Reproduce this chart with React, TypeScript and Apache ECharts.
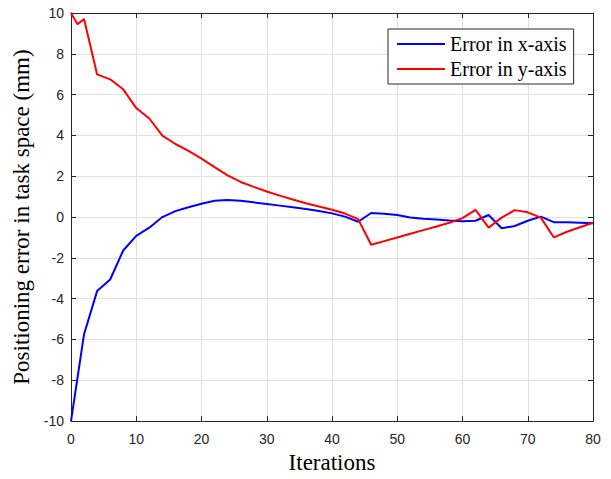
import React, { useEffect, useRef } from "react";
import * as echarts from "echarts";

const xTicks = { min: 0, max: 80, interval: 10 };
const yTicks = { min: -10, max: 10, interval: 2 };

const errX: [number, number][] = [
  [0, -10], [2, -5.74], [4, -3.63], [6, -3.06], [8, -1.64], [10, -0.92], [12, -0.52],
  [14, 0.0], [16, 0.29], [18, 0.48], [20, 0.65], [22, 0.8], [24, 0.83], [26, 0.8],
  [28, 0.72], [30, 0.64], [32, 0.56], [34, 0.48], [36, 0.4], [38, 0.3], [40, 0.18],
  [42, 0.02], [44, -0.23], [46, 0.2], [48, 0.16], [50, 0.1], [52, -0.02], [54, -0.08],
  [56, -0.12], [58, -0.17], [60, -0.2], [62, -0.18], [64, 0.1], [66, -0.55], [68, -0.44],
  [70, -0.18], [72, 0.02], [74, -0.25], [76, -0.26], [78, -0.28], [80, -0.3],
];

const errY: [number, number][] = [
  [0, 10], [1, 9.45], [2, 9.71], [4, 6.99], [6, 6.75], [8, 6.26], [10, 5.34], [12, 4.83],
  [14, 3.99], [16, 3.58], [18, 3.24], [20, 2.86], [22, 2.45], [24, 2.04], [26, 1.72],
  [28, 1.48], [30, 1.25], [32, 1.05], [34, 0.86], [36, 0.68], [38, 0.52], [40, 0.36],
  [42, 0.17], [44, -0.1], [46, -1.36], [48, -1.18], [50, -1.0], [52, -0.82], [54, -0.64],
  [56, -0.46], [58, -0.28], [60, -0.05], [62, 0.35], [64, -0.52], [66, -0.03], [68, 0.34],
  [70, 0.23], [72, -0.03], [74, -1.0], [76, -0.72], [78, -0.5], [80, -0.28],
];

const seriesNames = ["Error in x-axis", "Error in y-axis"];
const xTitle = "Iterations";
const yTitle = "Positioning error in task space (mm)";

export default function App() {
  const ref = useRef<HTMLDivElement>(null);
  useEffect(() => {
    if (!ref.current) return;
    const chart = echarts.init(ref.current, null, { renderer: "svg" });
    const axisColor = "#262626";
    const tickFont = { fontFamily: "Liberation Sans", fontSize: 14, color: axisColor };
    const hiddenAxisCommon = {
      axisLine: { show: true, onZero: false, lineStyle: { color: axisColor, width: 1 } },
      axisTick: { show: true, inside: true, length: 5, lineStyle: { color: axisColor } },
      axisLabel: { show: false },
      splitLine: { show: false },
    };
    chart.setOption({
      animation: false,
      backgroundColor: "#ffffff",
      grid: { left: 71, right: 18, top: 13, bottom: 54, containLabel: false },
      legend: {
        orient: "vertical",
        left: 388,
        top: 29,
        padding: [5, 7, 5, 9],
        icon: "rect",
        itemWidth: 48,
        itemHeight: 2,
        itemGap: 5,
        backgroundColor: "#ffffff",
        borderColor: axisColor,
        borderWidth: 1,
        borderRadius: 0,
        textStyle: { fontFamily: "Liberation Serif", fontSize: 20, color: "#000", lineHeight: 20 },
        data: seriesNames,
      },
      xAxis: [
        {
          type: "value",
          position: "bottom",
          ...xTicks,
          name: xTitle,
          nameLocation: "middle",
          nameGap: 29,
          nameTextStyle: { fontFamily: "Liberation Serif", fontSize: 23, color: "#000" },
          axisLine: { show: true, onZero: false, lineStyle: { color: axisColor, width: 1 } },
          axisTick: { show: true, inside: true, length: 5, lineStyle: { color: axisColor } },
          axisLabel: { ...tickFont, margin: 11 },
          splitLine: { show: true, lineStyle: { color: "#e0e0e0", width: 1 } },
        },
        { type: "value", position: "top", ...xTicks, ...hiddenAxisCommon },
      ],
      yAxis: [
        {
          type: "value",
          position: "left",
          ...yTicks,
          name: yTitle,
          nameLocation: "middle",
          nameGap: 34,
          nameRotate: 90,
          nameTextStyle: { fontFamily: "Liberation Serif", fontSize: 23, color: "#000" },
          axisLine: { show: true, onZero: false, lineStyle: { color: axisColor, width: 1 } },
          axisTick: { show: true, inside: true, length: 5, lineStyle: { color: axisColor } },
          axisLabel: { ...tickFont, margin: 7, padding: [4, 0, 0, 0] },
          splitLine: { show: true, lineStyle: { color: "#e0e0e0", width: 1 } },
        },
        { type: "value", position: "right", ...yTicks, ...hiddenAxisCommon },
      ],
      series: [
        {
          name: seriesNames[0],
          type: "line",
          data: errX,
          symbol: "none",
          lineStyle: { color: "#0000ff", width: 2 },
          itemStyle: { color: "#0000ff" },
          xAxisIndex: 0,
          yAxisIndex: 0,
          z: 3,
        },
        {
          name: seriesNames[1],
          type: "line",
          data: errY,
          symbol: "none",
          lineStyle: { color: "#ff0000", width: 2 },
          itemStyle: { color: "#ff0000" },
          xAxisIndex: 0,
          yAxisIndex: 0,
          z: 3,
        },
      ],
    });
    return () => chart.dispose();
  }, []);
  return <div ref={ref} style={{ width: 611, height: 479, position: "absolute", left: 0, top: 0 }} />;
}
